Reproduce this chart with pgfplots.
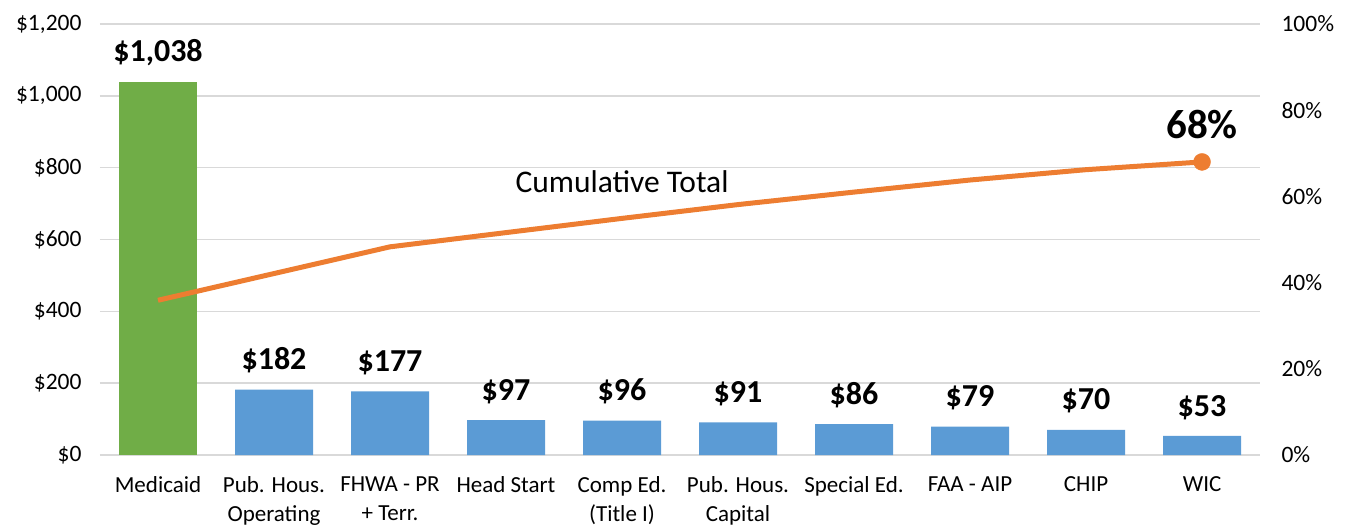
\documentclass[border=0pt]{standalone}
\usepackage{pgfplots}
\pgfplotsset{compat=1.18}
\usepackage{fontspec}
\setmainfont{Carlito}
\definecolor{barblue}{HTML}{5B9BD5}
\definecolor{bargreen}{HTML}{70AD47}
\definecolor{lineorange}{HTML}{ED7D31}
\definecolor{gridgray}{HTML}{D9D9D9}
\begin{document}
\begin{tikzpicture}
\begin{axis}[
  at={(0,0)}, anchor=south west,
  scale only axis, width=1160bp, height=431bp,
  xmin=-0.5, xmax=9.5, ymin=0, ymax=1200,
  axis line style={draw=none}, tick style={draw=none},
  ytick={0,200,...,1200},
  yticklabels={{\$0},{\$200},{\$400},{\$600},{\$800},{\$1,000},{\$1,200}},
  ymajorgrids, grid style={gridgray, line width=1.5bp},
  yticklabel style={font=\fontsize{23.5bp}{28bp}\selectfont, xshift=-15bp},
  xtick={0,...,9},
  xticklabels={Medicaid, Pub. Hous.\\Operating, FHWA - PR\\+ Terr., Head Start, Comp Ed.\\(Title I), Pub. Hous.\\Capital, Special Ed., FAA - AIP, CHIP, WIC},
  xticklabel style={align=center, font=\fontsize{23bp}{29bp}\selectfont, anchor=north, yshift=-18bp},
  nodes near coords style={font=\bfseries\fontsize{32bp}{36bp}\selectfont, black, anchor=south, yshift=13bp},
]
\addplot[ybar, bar width=78bp, bar shift=0pt, fill=bargreen, draw=none,
  nodes near coords, point meta=explicit symbolic]
  coordinates {(0,1038) [\$1,038]};
\addplot[ybar, bar width=78bp, bar shift=0pt, fill=barblue, draw=none,
  nodes near coords, point meta=explicit symbolic]
  coordinates {
  (1,182) [\$182]
  (2,177) [\$177]
  (3,97) [\$97]
  (4,96) [\$96]
  (5,91) [\$91]
  (6,86) [\$86]
  (7,79) [\$79]
  (8,70) [\$70]
  (9,53) [\$53]
  };
\end{axis}
\begin{axis}[
  at={(0,0)}, anchor=south west,
  scale only axis, width=1160bp, height=431bp,
  xmin=-0.5, xmax=9.5, ymin=0, ymax=100,
  axis line style={draw=none}, tick style={draw=none},
  xtick=\empty,
  ytick={0,20,...,100},
  yticklabels={0\%,20\%,40\%,60\%,80\%,100\%},
  yticklabel pos=right,
  yticklabel style={font=\fontsize{23.5bp}{28bp}\selectfont, anchor=west, xshift=18bp},
]
\addplot[lineorange, line width=5bp, mark=none] coordinates {
  (0,35.9) (1,42.1) (2,48.3) (3,51.6) (4,54.9) (5,58.1) (6,61.0) (7,63.8) (8,66.2) (9,68.0)
};
\addplot[lineorange, only marks, mark=*, mark size=8.5bp,
  nodes near coords, point meta=explicit symbolic,
  nodes near coords style={font=\bfseries\fontsize{41bp}{46bp}\selectfont, black, anchor=south, yshift=20bp}]
  coordinates {(9,68.0) [68\%]};
\node[font=\fontsize{31.5bp}{36bp}\selectfont] at (axis cs:4,63.3) {Cumulative Total};
\end{axis}
\pgfresetboundingbox
\path[use as bounding box] (-100bp,-71bp) rectangle (1250bp,455bp);
\end{tikzpicture}
\end{document}
